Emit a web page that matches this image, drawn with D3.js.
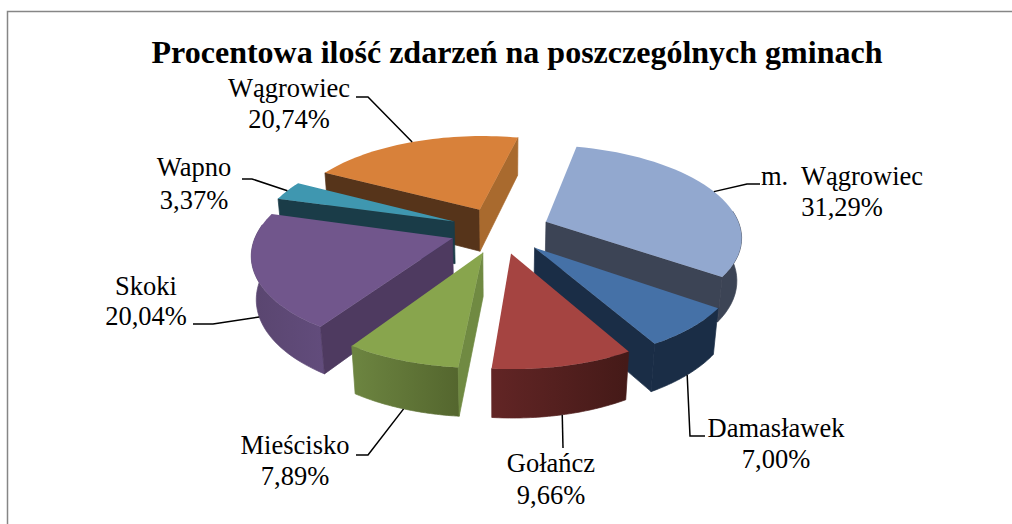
<!DOCTYPE html>
<html><head><meta charset="utf-8">
<script src="https://cdn.jsdelivr.net/npm/d3@7/dist/d3.min.js"></script>
<style>html,body{margin:0;padding:0;background:#fff}svg{display:block}text{font-family:"Liberation Serif",serif;fill:#000}</style>
</head><body><svg id="c" width="1012" height="524"></svg>
<script>
const titleText = "Procentowa ilość zdarzeń na poszczególnych gminach";
const categories = ["m.  Wągrowiec","Damasławek","Gołańcz","Mieścisko","Skoki","Wapno","Wągrowiec"];
const values = [31.29,7.00,9.66,7.89,20.04,3.37,20.74];
const valueLabels = ["31,29%","7,00%","9,66%","7,89%","20,04%","3,37%","20,74%"];
const topColors = ["#92A8CF","#4571A7","#A54441","#88A54D","#71568C","#3F97B0","#D8813A"];
const outerFrom = ["#3C4455","#1A2D46","#622525","#6C8440","#5A4670","#1A3C48","#B06C30"];
const outerTo   = ["#3C4455","#1A2D46","#451A18","#54662E","#624C7C","#1A3C48","#B06C30"];
const startFace = ["#3C4455","#1A2D46","#4A1C1A","#708A42","#4E3A60","#1A3C48","#56341A"];
const endFace   = ["#3C4455","#1A2D46","#4A1C1A","#54662E","#4E3A60","#1A3C48","#A96A2E"];
const drawOrder = [6,0,5,4,1,3,2];
const labelX = [842,776,551,295,146,194,289];
const labelY = [185,437,472,454,295,176,97];
const labelGap = [31,31,32,31,30,33,31];
const leaderZ = [0,1,1,1,1,0,0];
const leaderElbows = [[[747,184],[760,184]],[[690,436],[705,436]],[[563,448]],[[368,455],[356,455]],[[213,324],[193,324]],[[252,179],[242,179]],[[368,97],[356,97]]];

const W=1012,H=524;
const cx=500,cy=230,R=195,explode=50,wallH=49,tilt=27.6*Math.PI/180,D=1150,firstAngle=12.5*Math.PI/180;
function project(X,Y,Z){
  const v=Y*Math.sin(tilt)+Z*Math.cos(tilt);
  const w=D+Y*Math.cos(tilt)-Z*Math.sin(tilt);
  return [cx+D*X/w, cy-D*v/w];
}
const svg=d3.select("#c");
const defs=svg.append("defs");
svg.append("path").attr("d",`M7.5 524V11.5H${W}`).attr("fill","none").attr("stroke","#868686").attr("stroke-width",1.5);
svg.append("text").attr("x",517).attr("y",63).attr("text-anchor","middle").attr("font-size",32).attr("font-weight","bold").text(titleText);

const pie=d3.pie().sort(null).startAngle(firstAngle).endAngle(firstAngle+2*Math.PI);
const arcs=pie(values);
const line=d3.line();
function geom(d){
  const m=(d.startAngle+d.endAngle)/2;
  const ox=explode*Math.sin(m), oy=explode*Math.cos(m);
  const rim=(a,z)=>project(ox+R*Math.sin(a),oy+R*Math.cos(a),z);
  const apex=z=>project(ox,oy,z);
  return {m,rim,apex};
}
const angleSteps=d=>d3.range(0,41).map(i=>d.startAngle+(d.endAngle-d.startAngle)*i/40);
drawOrder.forEach(i=>{
  const d=arcs[i], g=geom(d), as=angleSteps(d);
  const group=svg.append("g");
  const front=as.filter(a=>Math.cos(a)<0.15);
  if(front.length>1){
    const topRim=front.map(a=>g.rim(a,0)), botRim=front.map(a=>g.rim(a,-wallH));
    const xs=botRim.map(p=>p[0]);
    const gid="w"+i;
    const rising=xs[0]<xs[xs.length-1];
    const lg=defs.append("linearGradient").attr("id",gid).attr("gradientUnits","userSpaceOnUse")
      .attr("x1",d3.min(xs)).attr("x2",d3.max(xs)).attr("y1",0).attr("y2",0);
    lg.append("stop").attr("offset",0).attr("stop-color",rising?outerTo[i]:outerFrom[i]);
    lg.append("stop").attr("offset",1).attr("stop-color",rising?outerFrom[i]:outerTo[i]);
    group.append("path").attr("fill",`url(#${gid})`).attr("stroke",`url(#${gid})`).attr("stroke-width",0.7).attr("d",line(topRim.concat(botRim.slice().reverse()))+"Z");
  }
  const quad=(a,color)=>group.append("path").attr("fill",color).attr("stroke",color).attr("stroke-width",0.7).attr("d",line([g.apex(0),g.rim(a,0),g.rim(a,-wallH),g.apex(-wallH)])+"Z");
  if(Math.cos(d.startAngle-Math.PI/2)<0.05) quad(d.startAngle,startFace[i]);
  if(Math.cos(d.endAngle+Math.PI/2)<0.05) quad(d.endAngle,endFace[i]);
  group.append("path").attr("fill",topColors[i]).attr("d",line([g.apex(0)].concat(as.map(a=>g.rim(a,0))))+"Z");
});
arcs.forEach((d,i)=>{
  const g=geom(d);
  const pts=[g.rim(g.m,-wallH*leaderZ[i])].concat(leaderElbows[i]);
  svg.append("path").attr("fill","none").attr("stroke","#000").attr("stroke-width",1.5).attr("d",line(pts));
  const t=svg.append("text").attr("text-anchor","middle").attr("font-size",26.5).attr("xml:space","preserve").style("white-space","pre");
  t.append("tspan").attr("x",labelX[i]).attr("y",labelY[i]).text(categories[i]);
  t.append("tspan").attr("x",labelX[i]).attr("y",labelY[i]+labelGap[i]).text(valueLabels[i]);
});
</script></body></html>
